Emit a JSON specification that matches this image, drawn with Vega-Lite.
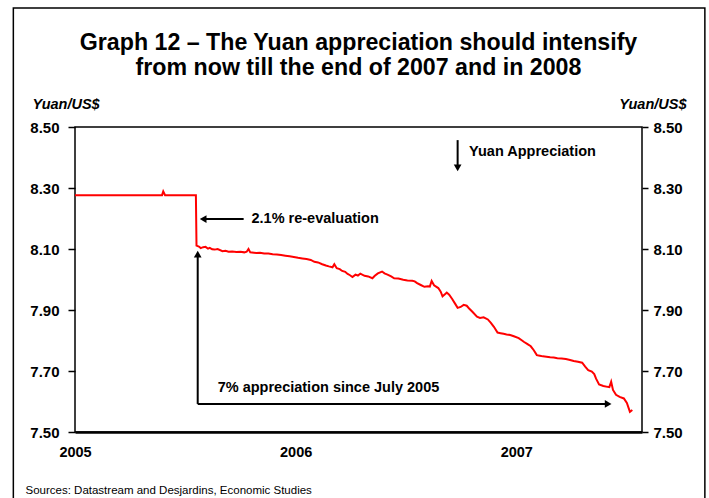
{
  "$schema": "https://vega.github.io/schema/vega-lite/v6.json",
  "width": 567,
  "height": 305,
  "autosize": {"type": "none"},
  "padding": {"left": 75, "top": 127, "right": 67, "bottom": 66},
  "background": "white",
  "config": {
    "font": "Liberation Sans",
    "view": {"stroke": "#000000", "strokeWidth": 1.5},
    "axis": {"grid": false, "labelColor": "#000", "titleColor": "#000", "tickColor": "#000", "domainColor": "#000"}
  },
  "title": {
    "text": ["Graph 12 – The Yuan appreciation should intensify", "from now till the end of 2007 and in 2008"],
    "fontSize": 23.2,
    "fontWeight": "bold",
    "color": "#000",
    "anchor": "middle",
    "frame": "group",
    "lineHeight": 25,
    "offset": -73
  },
  "datasets": {
    "series": [
      {"date": "2005-01-01", "value": 8.2765},
      {"date": "2005-03-15", "value": 8.2765},
      {"date": "2005-05-25", "value": 8.2765},
      {"date": "2005-05-27", "value": 8.289},
      {"date": "2005-05-30", "value": 8.2765},
      {"date": "2005-07-20", "value": 8.2765},
      {"date": "2005-07-21", "value": 8.111},
      {"date": "2005-07-25", "value": 8.108},
      {"date": "2005-07-28", "value": 8.103},
      {"date": "2005-08-01", "value": 8.106},
      {"date": "2005-08-05", "value": 8.107},
      {"date": "2005-08-09", "value": 8.101},
      {"date": "2005-08-12", "value": 8.104},
      {"date": "2005-08-16", "value": 8.099},
      {"date": "2005-08-20", "value": 8.098},
      {"date": "2005-08-25", "value": 8.100},
      {"date": "2005-09-02", "value": 8.093},
      {"date": "2005-09-07", "value": 8.094},
      {"date": "2005-09-12", "value": 8.091},
      {"date": "2005-09-18", "value": 8.092},
      {"date": "2005-09-25", "value": 8.090},
      {"date": "2005-10-02", "value": 8.091},
      {"date": "2005-10-08", "value": 8.089},
      {"date": "2005-10-12", "value": 8.091},
      {"date": "2005-10-15", "value": 8.100},
      {"date": "2005-10-18", "value": 8.089},
      {"date": "2005-10-28", "value": 8.087},
      {"date": "2005-11-03", "value": 8.088},
      {"date": "2005-11-10", "value": 8.085},
      {"date": "2005-11-17", "value": 8.085},
      {"date": "2005-11-24", "value": 8.083},
      {"date": "2005-12-01", "value": 8.082},
      {"date": "2005-12-08", "value": 8.080},
      {"date": "2005-12-15", "value": 8.078},
      {"date": "2005-12-22", "value": 8.076},
      {"date": "2005-12-29", "value": 8.074},
      {"date": "2006-01-05", "value": 8.071},
      {"date": "2006-01-12", "value": 8.069},
      {"date": "2006-01-19", "value": 8.067},
      {"date": "2006-01-26", "value": 8.064},
      {"date": "2006-02-01", "value": 8.058},
      {"date": "2006-02-07", "value": 8.056},
      {"date": "2006-02-14", "value": 8.050},
      {"date": "2006-02-20", "value": 8.046},
      {"date": "2006-02-25", "value": 8.043},
      {"date": "2006-03-03", "value": 8.040},
      {"date": "2006-03-06", "value": 8.050},
      {"date": "2006-03-10", "value": 8.037},
      {"date": "2006-03-15", "value": 8.034},
      {"date": "2006-03-19", "value": 8.028},
      {"date": "2006-03-24", "value": 8.025},
      {"date": "2006-03-28", "value": 8.018},
      {"date": "2006-04-01", "value": 8.014},
      {"date": "2006-04-05", "value": 8.008},
      {"date": "2006-04-10", "value": 8.016},
      {"date": "2006-04-14", "value": 8.013},
      {"date": "2006-04-18", "value": 8.019},
      {"date": "2006-04-25", "value": 8.012},
      {"date": "2006-05-01", "value": 8.010},
      {"date": "2006-05-08", "value": 8.004},
      {"date": "2006-05-12", "value": 8.012},
      {"date": "2006-05-17", "value": 8.020},
      {"date": "2006-05-24", "value": 8.026},
      {"date": "2006-05-28", "value": 8.020},
      {"date": "2006-06-02", "value": 8.016},
      {"date": "2006-06-08", "value": 8.010},
      {"date": "2006-06-13", "value": 8.004},
      {"date": "2006-06-20", "value": 8.003},
      {"date": "2006-06-28", "value": 7.999},
      {"date": "2006-07-05", "value": 7.997},
      {"date": "2006-07-13", "value": 7.996},
      {"date": "2006-07-17", "value": 7.994},
      {"date": "2006-07-21", "value": 7.988},
      {"date": "2006-07-27", "value": 7.982},
      {"date": "2006-08-02", "value": 7.976},
      {"date": "2006-08-08", "value": 7.978},
      {"date": "2006-08-11", "value": 7.977},
      {"date": "2006-08-14", "value": 7.995},
      {"date": "2006-08-18", "value": 7.981},
      {"date": "2006-08-25", "value": 7.972},
      {"date": "2006-08-29", "value": 7.960},
      {"date": "2006-09-01", "value": 7.945},
      {"date": "2006-09-05", "value": 7.952},
      {"date": "2006-09-08", "value": 7.957},
      {"date": "2006-09-12", "value": 7.950},
      {"date": "2006-09-17", "value": 7.936},
      {"date": "2006-09-22", "value": 7.920},
      {"date": "2006-09-26", "value": 7.907},
      {"date": "2006-10-01", "value": 7.910},
      {"date": "2006-10-06", "value": 7.917},
      {"date": "2006-10-11", "value": 7.914},
      {"date": "2006-10-15", "value": 7.905},
      {"date": "2006-10-20", "value": 7.895},
      {"date": "2006-10-28", "value": 7.878},
      {"date": "2006-11-02", "value": 7.874},
      {"date": "2006-11-08", "value": 7.876},
      {"date": "2006-11-15", "value": 7.869},
      {"date": "2006-11-20", "value": 7.858},
      {"date": "2006-11-25", "value": 7.845},
      {"date": "2006-12-01", "value": 7.826},
      {"date": "2006-12-06", "value": 7.824},
      {"date": "2006-12-11", "value": 7.822},
      {"date": "2006-12-16", "value": 7.820},
      {"date": "2006-12-22", "value": 7.818},
      {"date": "2006-12-28", "value": 7.814},
      {"date": "2007-01-05", "value": 7.808},
      {"date": "2007-01-10", "value": 7.801},
      {"date": "2007-01-14", "value": 7.795},
      {"date": "2007-01-19", "value": 7.789},
      {"date": "2007-01-25", "value": 7.781},
      {"date": "2007-01-30", "value": 7.768},
      {"date": "2007-02-04", "value": 7.752},
      {"date": "2007-02-09", "value": 7.750},
      {"date": "2007-02-14", "value": 7.748},
      {"date": "2007-02-20", "value": 7.747},
      {"date": "2007-02-26", "value": 7.745},
      {"date": "2007-03-04", "value": 7.744},
      {"date": "2007-03-10", "value": 7.742},
      {"date": "2007-03-17", "value": 7.741},
      {"date": "2007-03-24", "value": 7.739},
      {"date": "2007-03-31", "value": 7.736},
      {"date": "2007-04-06", "value": 7.733},
      {"date": "2007-04-13", "value": 7.730},
      {"date": "2007-04-20", "value": 7.727},
      {"date": "2007-04-25", "value": 7.714},
      {"date": "2007-04-30", "value": 7.703},
      {"date": "2007-05-06", "value": 7.698},
      {"date": "2007-05-10", "value": 7.690},
      {"date": "2007-05-13", "value": 7.675},
      {"date": "2007-05-18", "value": 7.656},
      {"date": "2007-05-25", "value": 7.651},
      {"date": "2007-06-01", "value": 7.648},
      {"date": "2007-06-04", "value": 7.647},
      {"date": "2007-06-07", "value": 7.665},
      {"date": "2007-06-10", "value": 7.638},
      {"date": "2007-06-15", "value": 7.622},
      {"date": "2007-06-21", "value": 7.615},
      {"date": "2007-06-28", "value": 7.610},
      {"date": "2007-07-03", "value": 7.595},
      {"date": "2007-07-08", "value": 7.566},
      {"date": "2007-07-12", "value": 7.572}
    ],
    "frame": [
      {"date": "2004-09-21", "date2": "2007-11-09", "value": 8.89, "value2": 7.2}
    ],
    "arrows": [
      {"date": "2005-07-30", "date2": "2005-10-07", "value": 8.198, "value2": 8.198},
      {"date": "2005-07-23", "date2": "2005-07-23", "value": 7.592, "value2": 8.075},
      {"date": "2005-07-23", "date2": "2007-06-01", "value": 7.592, "value2": 7.592},
      {"date": "2006-09-26", "date2": "2006-09-26", "value": 8.457, "value2": 8.375}
    ],
    "heads": [
      {"date": "2005-08-01", "value": 8.198, "dir": "left"},
      {"date": "2005-07-23", "value": 8.083, "dir": "up"},
      {"date": "2007-06-02", "value": 7.592, "dir": "right"},
      {"date": "2006-09-26", "value": 8.366, "dir": "down"}
    ],
    "labels": [
      {"date": "2005-10-20", "value": 8.198, "label": "2.1% re-evaluation"},
      {"date": "2005-08-25", "value": 7.644, "label": "7% appreciation since July 2005"},
      {"date": "2006-10-15", "value": 8.418, "label": "Yuan Appreciation"}
    ]
  },
  "encoding": {
    "x": {
      "field": "date",
      "type": "temporal",
      "scale": {"type": "utc", "domain": [{"year": 2005, "month": 1, "date": 1, "utc": true}, {"year": 2007, "month": 7, "date": 28, "utc": true}]},
      "axis": {
        "values": [{"year": 2005, "month": 1, "date": 1, "utc": true}, {"year": 2006, "month": 1, "date": 1, "utc": true}, {"year": 2007, "month": 1, "date": 1, "utc": true}],
        "format": "%Y",
        "labelFontSize": 14.5,
        "labelFontWeight": "bold",
        "labelPadding": 13,
        "labelFlush": false,
        "labelOverlap": false,
        "ticks": false,
        "domain": true,
        "domainWidth": 2.5,
        "title": "Sources: Datastream and Desjardins, Economic Studies",
        "titleFontSize": 11.5,
        "titleFontWeight": "normal",
        "titleAlign": "left",
        "titleBaseline": "middle",
        "titleX": -50,
        "titleY": 58
      }
    }
  },
  "layer": [
    {
      "data": {"name": "frame"},
      "mark": {"type": "rect", "filled": false, "stroke": "#000", "strokeWidth": 1.5, "clip": false},
      "encoding": {
        "x2": {"field": "date2"},
        "y": {"field": "value", "type": "quantitative", "scale": {"domain": [7.5, 8.5], "nice": false, "zero": false}, "axis": null},
        "y2": {"field": "value2"}
      }
    },
    {
      "data": {"name": "series"},
      "mark": {"type": "line", "color": "#FF0000", "strokeWidth": 2, "interpolate": "linear"},
      "encoding": {
        "y": {
          "field": "value",
          "type": "quantitative",
          "scale": {"domain": [7.5, 8.5], "nice": false, "zero": false},
          "axis": {
            "orient": "left",
            "values": [7.5, 7.7, 7.9, 8.1, 8.3, 8.5],
            "format": ".2f",
            "domain": false,
            "tickSize": 7,
            "tickWidth": 1.5,
            "labelPadding": 9,
            "labelFontSize": 15,
            "labelFontWeight": "bold",
            "title": "Yuan/US$",
            "titleFontSize": 14.5,
            "titleFontWeight": "bold",
            "titleFontStyle": "italic",
            "titleAngle": 0,
            "titleAlign": "left",
            "titleBaseline": "middle",
            "titleX": -43,
            "titleY": -23
          }
        }
      }
    },
    {
      "data": {"name": "arrows"},
      "mark": {"type": "rule", "color": "#000", "strokeWidth": 2},
      "encoding": {
        "x2": {"field": "date2"},
        "y": {
          "field": "value",
          "type": "quantitative",
          "scale": {"domain": [7.5, 8.5], "nice": false, "zero": false},
          "axis": {
            "orient": "right",
            "values": [7.5, 7.7, 7.9, 8.1, 8.3, 8.5],
            "format": ".2f",
            "domain": false,
            "tickSize": 6,
            "tickWidth": 1.5,
            "labelPadding": 5,
            "labelFontSize": 15,
            "labelFontWeight": "bold",
            "title": "Yuan/US$",
            "titleFontSize": 14.5,
            "titleFontWeight": "bold",
            "titleFontStyle": "italic",
            "titleAngle": 0,
            "titleAlign": "right",
            "titleBaseline": "middle",
            "titleX": 44,
            "titleY": -23
          }
        },
        "y2": {"field": "value2"}
      }
    },
    {
      "data": {"name": "heads"},
      "mark": {"type": "point", "filled": true, "color": "#000", "opacity": 1, "size": 60, "strokeWidth": 0},
      "encoding": {
        "y": {"field": "value", "type": "quantitative", "scale": {"domain": [7.5, 8.5], "nice": false, "zero": false}, "axis": null},
        "shape": {"field": "dir", "type": "nominal", "scale": {"domain": ["left", "up", "right", "down"], "range": ["triangle-left", "triangle-up", "triangle-right", "triangle-down"]}, "legend": null}
      }
    },
    {
      "data": {"name": "labels"},
      "mark": {"type": "text", "align": "left", "baseline": "middle", "fontSize": 14.5, "fontWeight": "bold", "color": "#000"},
      "encoding": {
        "y": {"field": "value", "type": "quantitative", "scale": {"domain": [7.5, 8.5], "nice": false, "zero": false}, "axis": null},
        "text": {"field": "label"}
      }
    }
  ],
  "resolve": {"axis": {"y": "independent"}}
}
